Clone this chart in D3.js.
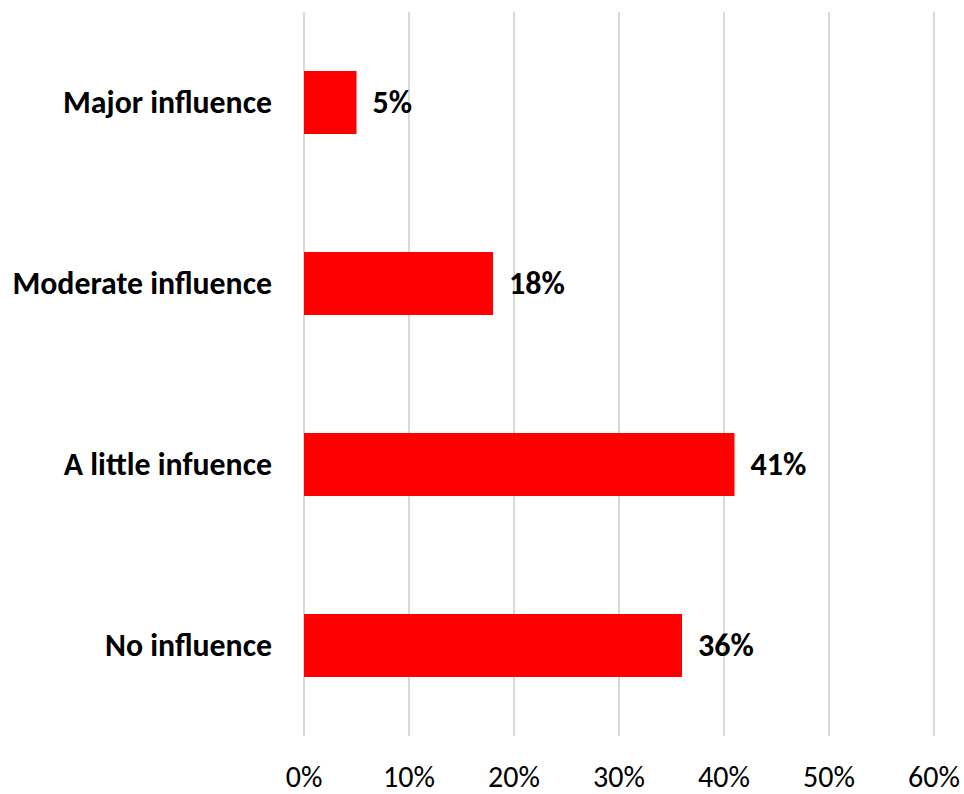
<!DOCTYPE html>
<html>
<head>
<meta charset="utf-8">
<script src="https://cdn.jsdelivr.net/npm/d3@7"></script>
<style>
  html, body { margin: 0; padding: 0; background: #fff; }
  svg text { font-family: Carlito, Calibri, Lato, "Open Sans", sans-serif; }
</style>
</head>
<body>
<svg id="chart" width="964" height="794"></svg>
<script>
const categories = ["Major influence", "Moderate influence", "A little infuence", "No influence"];
const values = [0.05, 0.18, 0.41, 0.36];
const tickValues = [0, 0.1, 0.2, 0.3, 0.4, 0.5, 0.6];
const tickLabels = ["0%", "10%", "20%", "30%", "40%", "50%", "60%"];

const svg = d3.select("#chart");
const x = d3.scaleLinear().domain([0, 0.6]).range([304, 934]);
const y = d3.scaleBand().domain(categories).range([12, 736])
  .paddingInner(0.652).paddingOuter(0.326);

// gridlines
svg.append("g").selectAll("line").data(tickValues).join("line")
  .attr("x1", d => x(d)).attr("x2", d => x(d))
  .attr("y1", 12).attr("y2", 736)
  .attr("stroke", "#d9d9d9").attr("stroke-width", 2);

// tick labels
svg.append("g").selectAll("text").data(tickValues).join("text")
  .attr("x", d => x(d)).attr("y", 787)
  .attr("text-anchor", "middle")
  .attr("font-size", 30).attr("fill", "#000")
  .text((d, i) => tickLabels[i]);

// bars
svg.append("g").selectAll("rect").data(categories).join("rect")
  .attr("x", x(0))
  .attr("y", d => y(d))
  .attr("width", (d, i) => x(values[i]) - x(0))
  .attr("height", y.bandwidth())
  .attr("fill", "#ff0000");

// category labels
svg.append("g").selectAll("text").data(categories).join("text")
  .attr("x", 272)
  .attr("y", d => y(d) + y.bandwidth() / 2)
  .attr("dy", "0.33em")
  .attr("text-anchor", "end")
  .attr("font-size", 31.8).attr("font-weight", "bold").attr("fill", "#000")
  .text(d => d);

// value labels
svg.append("g").selectAll("text").data(categories).join("text")
  .attr("x", (d, i) => x(values[i]) + 16)
  .attr("y", d => y(d) + y.bandwidth() / 2)
  .attr("dy", "0.33em")
  .attr("font-size", 32).attr("font-weight", "bold").attr("fill", "#000")
  .text((d, i) => Math.round(values[i] * 100) + "%");
</script>
</body>
</html>
